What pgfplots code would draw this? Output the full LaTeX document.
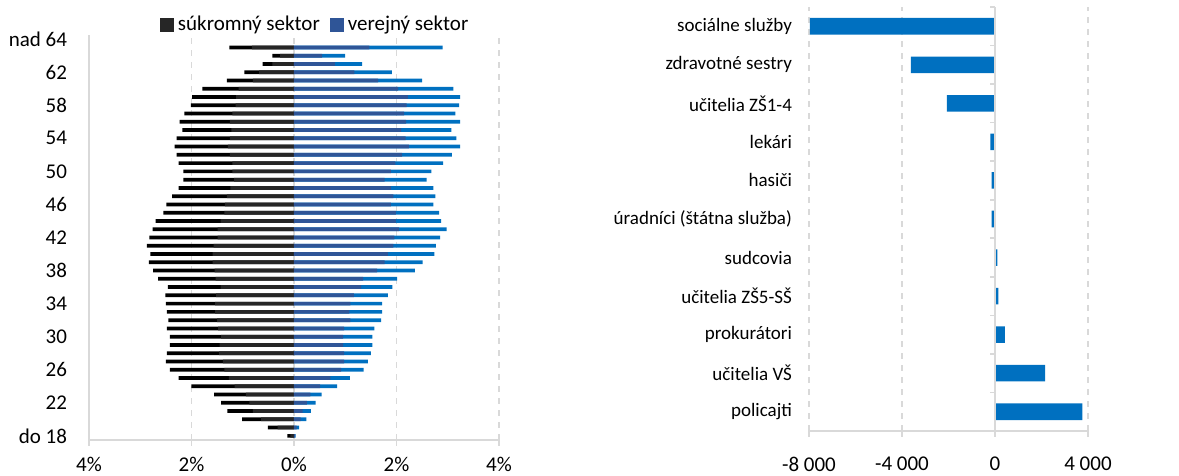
\documentclass[border=0pt]{standalone}
\usepackage{pgfplots}
\usepackage{pgfplotstable}
\pgfplotsset{compat=1.18}
\usepackage{fontspec}
\setmainfont{Carlito}
\definecolor{pout}{HTML}{000000}
\definecolor{pin}{HTML}{262626}
\definecolor{vin}{HTML}{2F5597}
\definecolor{vout}{HTML}{0070C0}
\definecolor{axgray}{HTML}{D9D9D9}

\pgfplotstableread{
i pt pi vi vt
0 0.13 0.07 0.02 0.03
1 0.51 0.32 0.05 0.10
2 1.01 0.64 0.13 0.24
3 1.30 0.80 0.17 0.33
4 1.42 0.87 0.25 0.42
5 1.56 0.94 0.32 0.54
6 2.00 1.16 0.51 0.84
7 2.25 1.27 0.71 1.09
8 2.42 1.36 0.92 1.36
9 2.50 1.39 0.98 1.44
10 2.48 1.46 0.98 1.50
11 2.42 1.45 0.96 1.53
12 2.42 1.42 0.96 1.53
13 2.48 1.48 0.98 1.57
14 2.45 1.50 1.10 1.70
15 2.48 1.54 1.08 1.72
16 2.50 1.54 1.10 1.72
17 2.51 1.52 1.17 1.83
18 2.46 1.43 1.31 1.92
19 2.65 1.53 1.35 2.01
20 2.75 1.55 1.62 2.36
21 2.83 1.59 1.77 2.51
22 2.80 1.59 1.83 2.74
23 2.87 1.57 1.94 2.77
24 2.82 1.49 1.96 2.85
25 2.76 1.49 2.05 2.98
26 2.70 1.43 1.99 2.87
27 2.55 1.36 1.99 2.83
28 2.49 1.35 1.89 2.72
29 2.38 1.31 1.94 2.76
30 2.25 1.24 1.89 2.72
31 2.16 1.17 1.77 2.59
32 2.16 1.20 1.89 2.68
33 2.25 1.20 1.98 2.91
34 2.29 1.25 2.11 3.08
35 2.33 1.29 2.24 3.24
36 2.29 1.25 2.18 3.17
37 2.18 1.22 2.09 3.07
38 2.23 1.25 2.19 3.24
39 2.14 1.20 2.15 3.15
40 2.01 1.14 2.20 3.22
41 1.99 1.13 2.22 3.24
42 1.79 1.08 2.03 3.11
43 1.31 0.80 1.64 2.50
44 0.97 0.68 1.18 1.91
45 0.61 0.42 0.80 1.33
46 0.42 0.27 0.55 1.00
47 1.26 0.82 1.47 2.90
}\pyramid

\pgfplotstableread{
i v
0 3760
1 2160
2 430
3 150
4 100
5 -143
6 -143
7 -200
8 -2071
9 -3614
10 -7960
}\diffs

\begin{document}
\begin{tikzpicture}
\begin{axis}[
  at={(44.5pt,18pt)}, anchor=south west,
  scale only axis, width=205pt, height=202.5pt,
  xmin=-4, xmax=4, ymin=-0.5, ymax=48.5,
  xbar, /pgf/bar width=0.45, /pgf/bar shift=0pt,
  xtick={-4,-2,0,2,4}, xticklabels={4\%,2\%,0\%,2\%,4\%},
  ytick={0,4,...,48}, yticklabels={do 18,22,26,30,34,38,42,46,50,54,58,62,nad 64},
  axis x line*=bottom, axis y line*=left,
  axis line style={-, draw=axgray, line width=0.8pt},
  xmajorgrids, grid style={dashed, axgray, line width=0.8pt},
  tick align=outside, major tick length=3pt,
  xtick style={draw=axgray, line width=0.8pt}, ytick style={draw=none},
  tick label style={font=\fontsize{10.5}{12}\selectfont},
  xticklabel style={yshift=-2pt},
  yticklabel style={xshift=-4.5pt},
  legend style={at={(0.554,1.025)}, anchor=center, draw=none, fill=none,
    legend columns=2, font=\fontsize{10.5}{12}\selectfont,
    /tikz/every even column/.append style={column sep=3pt}},
  legend image code/.code={\fill[#1] (0pt,-3.5pt) rectangle (7pt,3.5pt);},
]
\addplot[fill=pout, draw=none, forget plot] table[x expr=-\thisrow{pt}, y=i] \pyramid;
\addplot[fill=vout, draw=none, forget plot] table[x=vt, y=i] \pyramid;
\addplot[fill=pin, draw=none] table[x expr=-\thisrow{pi}, y=i] \pyramid;
\addlegendentry{súkromný sektor}
\addplot[fill=vin, draw=none] table[x=vi, y=i] \pyramid;
\addlegendentry{verejný sektor}
\end{axis}

\begin{axis}[
  at={(404.5pt,22.5pt)}, anchor=south west,
  scale only axis, width=139.5pt, height=212pt,
  xmin=-8000, xmax=4000, ymin=-0.5, ymax=10.5,
  xbar, /pgf/bar width=0.43, /pgf/bar shift=0pt,
  xtick={-8000,-4000,0,4000}, xticklabels={-8 000,-4 000,0,4 000},
  ytick={0,...,10},
  yticklabels={policajti\ ,učitelia VŠ,prokurátori,učitelia ZŠ5-SŠ,sudcovia,úradníci (štátna služba),hasiči,lekári,učitelia ZŠ1-4,zdravotné sestry,sociálne služby},
  axis x line*=bottom, axis y line*=left,
  x axis line style={-, draw=axgray, line width=0.8pt},
  y axis line style={draw=none},
  xmajorgrids, grid style={dashed, axgray, line width=0.8pt},
  tick align=outside, major tick length=3pt,
  xtick style={draw=axgray, line width=0.8pt}, ytick style={draw=none},
  xticklabel style={font=\fontsize{10.5}{12}\selectfont, yshift=-6.5pt},
  yticklabel style={font=\fontsize{9.5}{11}\selectfont, xshift=-2pt},
]
\addplot[fill=vout, draw=none] table[x=v, y=i] \diffs;
\draw[axgray, line width=0.8pt] (axis cs:0,-0.5) -- (axis cs:0,10.5);
\pgfplotsinvokeforeach{-0.5,0.5,1.5,2.5,3.5,4.5,5.5,6.5,7.5,8.5,9.5,10.5}{
  \draw[axgray, line width=0.8pt] (axis cs:0,#1) -- ++(-2.5pt,0pt);
}
\end{axis}
\pgfresetboundingbox
\path (0pt,0pt) rectangle (589.5pt,238pt);
\end{tikzpicture}
\end{document}
